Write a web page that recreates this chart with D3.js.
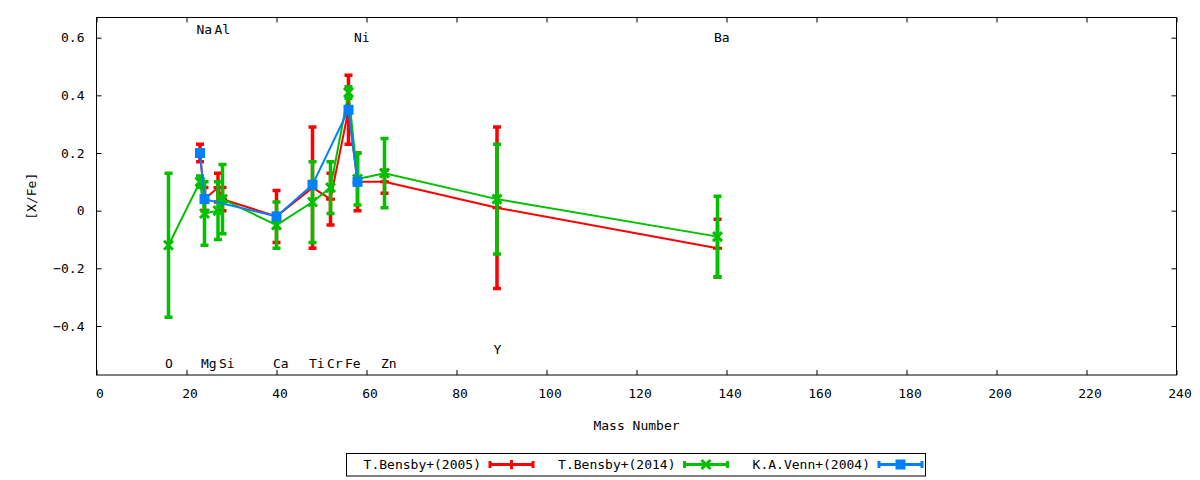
<!DOCTYPE html>
<html>
<head>
<meta charset="utf-8">
<script src="https://cdn.jsdelivr.net/npm/d3@7"></script>
<style>
  html, body { margin: 0; padding: 0; background: #fff; }
  svg text { font-family: "DejaVu Sans Mono", monospace; font-size: 13px; fill: #000; }
</style>
</head>
<body>
<svg id="chart" width="1200" height="480"></svg>
<script>
// ── Datos ──
const ELEMENTS    = ["O", "Na", "Mg", "Al", "Si", "Ca", "Ti", "Cr", "Fe", "Ni", "Zn", "Y", "Ba"];
const MASS_NUMBER = [16, 23, 24, 27, 28, 40, 48, 52, 56, 58, 64, 89, 138];
const LABEL_Y     = [-0.53, 0.63, -0.53, 0.63, -0.53, -0.53, -0.53, -0.53, -0.53, 0.60, -0.53, -0.48, 0.60];

const BENSBY05_VAL = [null, 0.20, 0.04, 0.08, 0.04, -0.02, 0.08, 0.04, 0.35, 0.10, 0.10, 0.01, -0.13];
const BENSBY05_ERR = [null, 0.03, 0.04, 0.05, 0.04,  0.09, 0.21, 0.09, 0.12, 0.10, 0.04, 0.28,  0.10];

const BENSBY14_VAL = [-0.12, 0.10, -0.01, 0.00, 0.04, -0.05, 0.03, 0.08, 0.41, 0.11, 0.13, 0.04, -0.09];
const BENSBY14_ERR = [ 0.25, 0.02,  0.11, 0.10, 0.12,  0.08, 0.14, 0.09, 0.02, 0.09, 0.12, 0.19,  0.14];

const VENN04_VAL = [null, 0.20, 0.04, null, null, -0.02, 0.09, null, 0.35, 0.10, null, null, null];
const VENN04_ERR = [null, 0.01, 0.01, null, null,  0.01, 0.01, null, 0.01, 0.01, null, null, null];

const X_TICKS = [0, 20, 40, 60, 80, 100, 120, 140, 160, 180, 200, 220, 240];
const Y_TICKS = [-0.4, -0.2, 0, 0.2, 0.4, 0.6];

const SERIES = [
  { name: "T.Bensby+(2005)", color: "#ff0000", point: "plus",   val: BENSBY05_VAL, err: BENSBY05_ERR },
  { name: "T.Bensby+(2014)", color: "#00c000", point: "cross",  val: BENSBY14_VAL, err: BENSBY14_ERR },
  { name: "K.A.Venn+(2004)", color: "#0080ff", point: "square", val: VENN04_VAL,   err: VENN04_ERR },
];

// ── Escalas ──
const L = 96.5, R = 1176.5, T = 17.5, B = 375;
const x = d3.scaleLinear().domain([0, 240]).range([L, R]);
const y = d3.scaleLinear().domain([-0.57, 0.67]).range([B, T]);

const svg = d3.select("#chart");

// ── Ejes (ticks hacia dentro, espejados) ──
const TICK = 5;
svg.append("g").attr("transform", `translate(0,${B})`)
  .call(d3.axisBottom(x).tickValues(X_TICKS).tickSize(-TICK).tickPadding(14).tickFormat(d3.format("d")))
  .call(g => g.selectAll("text").attr("dx", 3));
svg.append("g").attr("transform", `translate(0,${T})`)
  .call(d3.axisTop(x).tickValues(X_TICKS).tickSize(-TICK).tickFormat(""));
svg.append("g").attr("transform", `translate(${L},0)`)
  .call(d3.axisLeft(y).tickValues(Y_TICKS).tickSize(-TICK).tickPadding(12).tickFormat(d => d === 0 ? "0" : d3.format(".1f")(d)));
svg.append("g").attr("transform", `translate(${R},0)`)
  .call(d3.axisRight(y).tickValues(Y_TICKS).tickSize(-TICK).tickFormat(""));

svg.selectAll(".domain").remove();
svg.selectAll(".tick line").attr("stroke", "#000");
svg.selectAll(".tick text").attr("font-family", null).attr("font-size", null);

svg.append("rect")
  .attr("x", L).attr("y", T).attr("width", R - L).attr("height", B - T)
  .attr("fill", "none").attr("stroke", "#000").attr("stroke-width", 1);

// Títulos
svg.append("text")
  .attr("x", (L + R) / 2).attr("y", 425)
  .attr("text-anchor", "middle").attr("dominant-baseline", "central")
  .text("Mass Number");
svg.append("text")
  .attr("transform", `translate(31,${(T + B) / 2}) rotate(-90)`)
  .attr("text-anchor", "middle").attr("dominant-baseline", "central")
  .text("[X/Fe]");

// Etiquetas de elementos
svg.append("g").selectAll("text")
  .data(ELEMENTS).join("text")
  .attr("x", (d, i) => x(MASS_NUMBER[i]) - 3.5)
  .attr("y", (d, i) => y(LABEL_Y[i]))
  .attr("dominant-baseline", "central")
  .text(d => d);

// ── Marcadores ──
function drawPoint(g, kind, color, size) {
  const s = size / 2;
  if (kind === "square") {
    g.append("rect").attr("x", -s).attr("y", -s).attr("width", size).attr("height", size).attr("fill", color);
  } else if (kind === "plus") {
    g.append("path").attr("d", `M${-s},0H${s}M0,${-s}V${s}`)
      .attr("stroke", color).attr("stroke-width", 3).attr("fill", "none");
  } else {
    g.append("path").attr("d", `M${-s},${-s}L${s},${s}M${-s},${s}L${s},${-s}`)
      .attr("stroke", color).attr("stroke-width", 3).attr("fill", "none");
  }
}

// ── Series ──
const CAP = 4, BAR_W = 3.5;
SERIES.forEach(s => {
  const pts = MASS_NUMBER.map((m, i) => ({ m, v: s.val[i], e: s.err[i] })).filter(d => d.v !== null);
  const g = svg.append("g");

  // barras de error
  const bars = g.append("g").attr("stroke", s.color).attr("stroke-width", BAR_W).attr("fill", "none");
  bars.selectAll("path").data(pts).join("path")
    .attr("d", d => {
      const cx = x(d.m), y1 = y(d.v + d.e), y2 = y(d.v - d.e);
      return `M${cx},${y1}V${y2}M${cx - CAP},${y1}H${cx + CAP}M${cx - CAP},${y2}H${cx + CAP}`;
    });

  // línea
  g.append("path").datum(pts)
    .attr("d", d3.line().x(d => x(d.m)).y(d => y(d.v)))
    .attr("fill", "none").attr("stroke", s.color).attr("stroke-width", 2);

  // puntos
  g.append("g").selectAll("g").data(pts).join("g")
    .attr("transform", d => `translate(${x(d.m)},${y(d.v)})`)
    .each(function() { drawPoint(d3.select(this), s.point, s.color, s.point === "square" ? 10 : 9); });
});

// ── Leyenda ──
const legend = svg.append("g");
legend.append("rect")
  .attr("x", 346.5).attr("y", 453.5).attr("width", 579).attr("height", 22.5)
  .attr("fill", "#fff").attr("stroke", "#000").attr("stroke-width", 1);

const LEG_Y = 464.5, LEG_STEP = 194.5;
SERIES.forEach((s, i) => {
  const ox = i * LEG_STEP;
  legend.append("text")
    .attr("x", 481 + ox).attr("y", LEG_Y)
    .attr("text-anchor", "end").attr("dominant-baseline", "central")
    .text(s.name);
  const x1 = 490 + ox, x2 = 533 + ox;
  legend.append("path")
    .attr("d", `M${x1},${LEG_Y}H${x2}M${x1},${LEG_Y - 3.5}V${LEG_Y + 3.5}M${x2},${LEG_Y - 3.5}V${LEG_Y + 3.5}`)
    .attr("stroke", s.color).attr("stroke-width", 3).attr("fill", "none");
  const pg = legend.append("g").attr("transform", `translate(${(x1 + x2) / 2},${LEG_Y})`);
  drawPoint(pg, s.point, s.color, s.point === "square" ? 10 : 9);
});
</script>
</body>
</html>
